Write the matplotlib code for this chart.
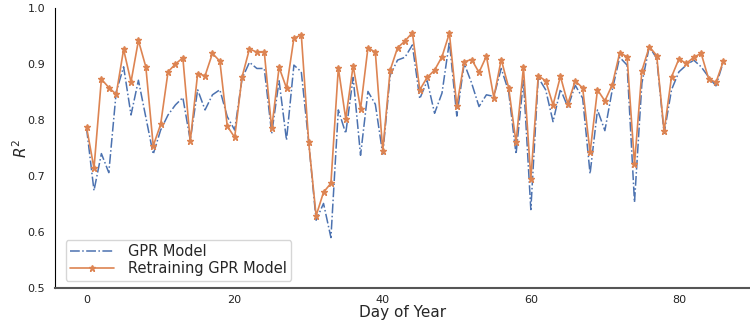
import matplotlib
matplotlib.use("Agg")
import matplotlib.pyplot as plt
import seaborn as sns
import numpy as np

# R^2 per day
days = np.arange(0, 87)

gpr = [0.785, 0.674, 0.740, 0.706, 0.850, 0.895, 0.809, 0.871, 0.805, 0.739,
       0.782, 0.809, 0.827, 0.840, 0.764, 0.854, 0.818, 0.845, 0.854, 0.806,
       0.782, 0.874, 0.903, 0.892, 0.892, 0.776, 0.870, 0.764, 0.898, 0.886,
       0.760, 0.621, 0.651, 0.590, 0.818, 0.776, 0.876, 0.737, 0.851, 0.828,
       0.739, 0.880, 0.907, 0.912, 0.934, 0.838, 0.870, 0.812, 0.848, 0.940,
       0.807, 0.901, 0.866, 0.824, 0.845, 0.842, 0.892, 0.851, 0.739, 0.871,
       0.640, 0.876, 0.854, 0.797, 0.855, 0.823, 0.862, 0.839, 0.704, 0.818,
       0.781, 0.854, 0.912, 0.898, 0.653, 0.866, 0.931, 0.910, 0.776, 0.854,
       0.886, 0.898, 0.907, 0.895, 0.877, 0.861, 0.904]

retrain = [0.787, 0.714, 0.873, 0.858, 0.846, 0.926, 0.868, 0.942, 0.895, 0.754,
           0.792, 0.886, 0.900, 0.911, 0.762, 0.883, 0.879, 0.919, 0.905, 0.789,
           0.769, 0.877, 0.927, 0.921, 0.921, 0.785, 0.894, 0.857, 0.946, 0.952,
           0.760, 0.629, 0.671, 0.687, 0.893, 0.802, 0.897, 0.820, 0.929, 0.921,
           0.745, 0.889, 0.929, 0.941, 0.956, 0.854, 0.876, 0.889, 0.913, 0.955,
           0.825, 0.904, 0.908, 0.885, 0.914, 0.840, 0.908, 0.858, 0.760, 0.894,
           0.695, 0.879, 0.870, 0.827, 0.878, 0.829, 0.870, 0.857, 0.742, 0.854,
           0.834, 0.863, 0.920, 0.913, 0.721, 0.888, 0.931, 0.915, 0.780, 0.877,
           0.909, 0.901, 0.912, 0.919, 0.874, 0.867, 0.905]

sns.set_style("white")
plt.rcParams['font.family'] = ['DejaVu Sans']

fig = plt.figure(figsize=(7.5, 3.2), dpi=100)
ax = fig.add_axes([0.073, 0.1, 0.927, 0.875])

ax.plot(days, gpr, color='#4C72B0', linestyle='-.', linewidth=1.1, label='GPR Model')
ax.plot(days, retrain, color='#DD8452', marker='*', markersize=4.5, linewidth=1.2,
        label='Retraining GPR Model')

ax.set_ylim(0.5, 1.0)
ax.set_xlim(-4.3, 89.6)
ax.set_xticks([0, 20, 40, 60, 80])
ax.set_yticks([0.5, 0.6, 0.7, 0.8, 0.9, 1.0])
ax.tick_params(labelsize=8, colors='#222222', length=0)
ax.tick_params(axis='y', pad=7)
ax.tick_params(axis='x', pad=5)
ax.set_xlabel('Day of Year', fontsize=11, labelpad=0)
ax.set_ylabel('$R^2$', fontsize=11, labelpad=-2)

for s in ['top', 'right']:
    ax.spines[s].set_visible(False)
ax.spines['left'].set_color('black')
ax.spines['bottom'].set_color('#555555')
ax.spines['bottom'].set_linewidth(1.5)

ax.legend(loc='lower left', fontsize=10.5, frameon=True, handlelength=3.0,
          handletextpad=1.0, borderpad=0.3, labelspacing=0.15,
          bbox_to_anchor=(0.005, 0.0))

fig.savefig('out.png', dpi=100)
